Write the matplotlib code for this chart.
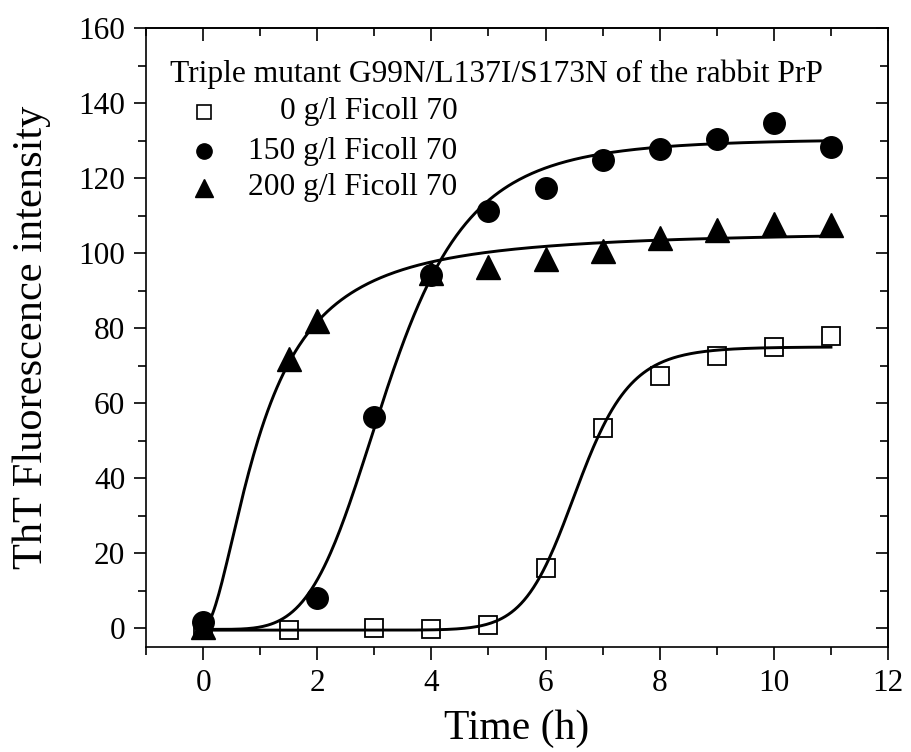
import numpy as np
import matplotlib
matplotlib.use("Agg")
import matplotlib.pyplot as plt
from matplotlib.ticker import MultipleLocator

plt.rcParams['font.family'] = ['Liberation Serif', 'DejaVu Serif']

# measured points
t_0 = [0, 1.5, 3, 4, 5, 6, 7, 8, 9, 10, 11]
y_0 = [-0.3, -0.4, 0.2, -0.3, 0.8, 16.0, 53.5, 67.3, 72.6, 74.9, 77.8]

t_150 = [0, 2, 3, 4, 5, 6, 7, 8, 9, 10, 11]
y_150 = [1.8, 8.0, 56.4, 94.2, 111.1, 117.3, 124.7, 127.8, 130.4, 134.7, 128.4]

t_200 = [0, 1.5, 2, 4, 5, 6, 7, 8, 9, 10, 11]
y_200 = [0.4, 71.7, 81.8, 94.7, 96.4, 98.4, 100.7, 104.0, 106.2, 107.8, 107.5]

labels = ["0 g/l Ficoll 70", "150 g/l Ficoll 70", "200 g/l Ficoll 70"]
title = "Triple mutant G99N/L137I/S173N of the rabbit PrP"

# fit parameters (offset, amplitude, half time, hill coefficient)
fit_0 = (-0.5, 75.5, 6.55, 14.0)
fit_150 = (-0.3, 130.8, 3.25, 4.5)
fit_200 = (0.0, 106.0, 1.02, 1.8)


def hill(x, p):
    y0, v, k, n = p
    return y0 + v * x**n / (k**n + x**n)


fig = plt.figure(figsize=(9.11, 7.52), dpi=100)
ax = fig.add_axes([0.1603, 0.1396, 0.8145, 0.8231])

xf = np.linspace(0, 11, 400)
for p in (fit_0, fit_150, fit_200):
    ax.plot(xf, hill(xf, p), color='black', lw=2.1, zorder=2)

ax.plot(t_0, y_0, ls='none', marker='s', ms=13, mfc='none', mec='black', mew=1.3, zorder=3)
ax.plot(t_150, y_150, ls='none', marker='o', ms=15.5, color='black', zorder=3)
ax.plot(t_200, y_200, ls='none', marker='^', ms=17.5, color='black', zorder=3)

ax.set_xlim(-1, 12)
ax.set_ylim(-5, 160)
ax.xaxis.set_major_locator(MultipleLocator(2))
ax.xaxis.set_minor_locator(MultipleLocator(1))
ax.yaxis.set_major_locator(MultipleLocator(20))
ax.yaxis.set_minor_locator(MultipleLocator(10))
ax.tick_params(which='both', direction='out', width=1.2, labelsize=22.5, top=False, right=False)
ax.tick_params(which='major', length=9)
ax.tick_params(which='minor', length=5.5)
ax.tick_params(axis='x', pad=7)
ax.tick_params(axis='y', pad=6)
for s in ax.spines.values():
    s.set_linewidth(1.2)

# top / right ticks point inward
top = ax.secondary_xaxis('top')
top.xaxis.set_major_locator(MultipleLocator(2))
top.xaxis.set_minor_locator(MultipleLocator(1))
top.tick_params(which='both', direction='in', width=1.2, labeltop=False)
top.tick_params(which='major', length=9)
top.tick_params(which='minor', length=5.5)
right = ax.secondary_yaxis('right')
right.yaxis.set_major_locator(MultipleLocator(20))
right.yaxis.set_minor_locator(MultipleLocator(10))
right.tick_params(which='both', direction='in', width=1.2, labelright=False)
right.tick_params(which='major', length=9)
right.tick_params(which='minor', length=5.5)
for sec in (top, right):
    for s in sec.spines.values():
        s.set_linewidth(1.2)

ax.set_xlabel("Time (h)", fontsize=30, labelpad=8)
ax.set_ylabel("ThT Fluorescence intensity", fontsize=30.5)
ax.yaxis.set_label_coords(-0.128, 0.5)

# legend drawn by hand
ax.text(0.0323, 0.913, title, transform=ax.transAxes, fontsize=22.7, va='baseline', ha='left')
rows_y = [0.865, 0.801, 0.742]
mk = [dict(marker='s', ms=10, mfc='none', mec='black', mew=1.2),
      dict(marker='o', ms=11, color='black'),
      dict(marker='^', ms=13, color='black')]
for ry, lab, m in zip(rows_y, labels, mk):
    ax.plot([0.078], [ry], transform=ax.transAxes, ls='none', clip_on=False, **m)
    ax.text(0.4195, ry, lab, transform=ax.transAxes, fontsize=22.7, va='center', ha='right')

fig.savefig("out.png", dpi=100)
